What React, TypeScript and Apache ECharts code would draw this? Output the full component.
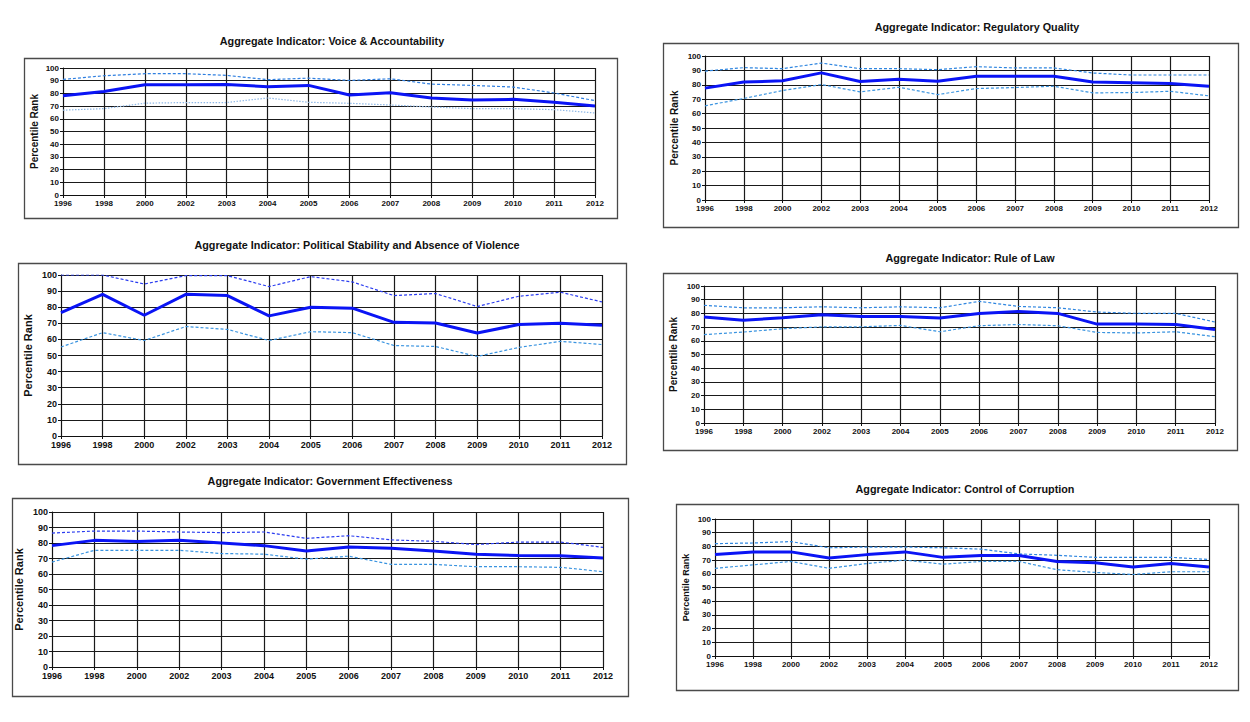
import React, { useEffect, useRef } from "react";
import * as echarts from "echarts";

const years = ["1996", "1998", "2000", "2002", "2003", "2004", "2005", "2006", "2007", "2008", "2009", "2010", "2011", "2012"];
const yTicks = [0, 100, 10]; // min, max, interval

const voiceRank = [78.2, 81.5, 86.8, 86.8, 87, 85.3, 86.3, 78.7, 80.5, 76.3, 74.8, 75.3, 73, 70];
const voiceUpper = [91, 93.9, 95.5, 95.5, 94.2, 90.8, 92, 90.2, 91.5, 87.3, 86.3, 85, 80.3, 74.3];
const voiceLower = [66.8, 68, 72.3, 72.8, 72.8, 76.4, 73, 72.2, 70.9, 69.3, 68, 68, 67.2, 64.6];

const regRank = [77.7, 81.9, 82.8, 88.3, 82.3, 83.9, 82.5, 86, 86, 86, 81.9, 81.4, 80.9, 79];
const regUpper = [89.5, 91.9, 91.2, 95.1, 91.2, 91.2, 90.5, 92.6, 91.7, 91.7, 88.2, 86.8, 86.8, 86.8];
const regLower = [65.4, 70.5, 76, 80.2, 75.1, 78.3, 73.2, 77.4, 78.1, 79, 74.4, 74.6, 75.5, 72.3];

const polRank = [76.7, 88, 75, 88, 87.2, 74.6, 80, 79.4, 70.6, 70.2, 64, 69.2, 70, 68.8];
const polUpper = [100, 100, 94.4, 99.6, 99.6, 92.8, 99, 95.7, 87.2, 88.5, 80.4, 86.8, 89.3, 83.3];
const polLower = [55.3, 64.2, 59.3, 68, 66.2, 59.3, 64.8, 64.2, 56.2, 55.6, 49.4, 55, 58.8, 56.8];

const lawRank = [77.3, 75, 76.9, 79, 77.8, 77.8, 76.6, 80, 81.4, 80, 72.2, 72.2, 71.9, 68.3];
const lawUpper = [85.9, 84.1, 84.1, 84.8, 84.1, 84.8, 84.1, 88.8, 85.1, 84.1, 81, 80, 80, 73.7];
const lawLower = [64.5, 66.4, 68.8, 70.2, 70.2, 71.2, 66.6, 71, 71.9, 71, 66.1, 65.7, 66.6, 63];

const govRank = [78.3, 81.7, 80.9, 81.7, 80, 78.3, 74.9, 77.4, 76.6, 74.9, 72.8, 71.9, 71.7, 70.4];
const govUpper = [86.4, 87.7, 87.7, 87.1, 86.7, 87.1, 83, 84.7, 82, 81.1, 79, 80.6, 80.6, 77.2];
const govLower = [67.7, 75.3, 75.3, 75.3, 73.2, 72.8, 69.6, 71.5, 66.2, 66.2, 64.7, 64.7, 64.3, 61.5];

const corRank = [74, 76, 76, 71.5, 74, 76, 72, 73.3, 73.3, 69, 68, 65, 67.5, 65];
const corUpper = [82, 82.5, 83.5, 79, 79.5, 79.5, 79, 78, 74.5, 73.5, 72, 72, 72, 70.5];
const corLower = [64, 66.5, 69, 64, 67.5, 70, 67, 69, 69, 63, 61, 59.5, 61.5, 61.5];

const FONT = "Liberation Sans, Arial, sans-serif";

const panels = [
  {
    title: "Aggregate Indicator: Voice & Accountability",
    rank: voiceRank, upper: voiceUpper, lower: voiceLower,
    grid: { left: 63, top: 68, width: 532, height: 127 },
    box: [24, 58, 593, 160], tx: 332, ty: 41,
    fs: 8, nfs: 10, gap: 24, upC: "#2f7fe0", loC: "#8fb8e6", loDash: [1.5, 1.5],
  },
  {
    title: "Aggregate Indicator: Regulatory Quality",
    rank: regRank, upper: regUpper, lower: regLower,
    grid: { left: 705, top: 56, width: 504, height: 144 },
    box: [663, 43, 575, 184], tx: 977, ty: 27,
    fs: 8, nfs: 10, gap: 26, upC: "#2f86e0", loC: "#3a94e0", loDash: [3, 2],
  },
  {
    title: "Aggregate Indicator: Political Stability and Absence of Violence",
    rank: polRank, upper: polUpper, lower: polLower,
    grid: { left: 61, top: 275, width: 541, height: 161 },
    box: [18, 263, 608, 201], tx: 357, ty: 245,
    fs: 9, nfs: 11, gap: 28, upC: "#2a3cf0", loC: "#3a94e0", loDash: [3, 2],
  },
  {
    title: "Aggregate Indicator: Rule of Law",
    rank: lawRank, upper: lawUpper, lower: lawLower,
    grid: { left: 704, top: 286, width: 511, height: 137 },
    box: [663, 273, 574, 177], tx: 970, ty: 258,
    fs: 8, nfs: 10, gap: 26, upC: "#2f86e0", loC: "#3a94e0", loDash: [3, 2],
  },
  {
    title: "Aggregate Indicator: Government Effectiveness",
    rank: govRank, upper: govUpper, lower: govLower,
    grid: { left: 52, top: 512, width: 551, height: 155 },
    box: [12, 498, 616, 198], tx: 330, ty: 481,
    fs: 9, nfs: 11, gap: 28, upC: "#2a3cf0", loC: "#3a94e0", loDash: [3, 2],
  },
  {
    title: "Aggregate Indicator: Control of Corruption",
    rank: corRank, upper: corUpper, lower: corLower,
    grid: { left: 715, top: 519, width: 494, height: 137 },
    box: [676, 504, 562, 186], tx: 965, ty: 489,
    fs: 8, nfs: 9, gap: 25, upC: "#2f86e0", loC: "#3a94e0", loDash: [3, 2],
  },
];

export default function App() {
  const ref = useRef<HTMLDivElement>(null);
  useEffect(() => {
    if (!ref.current) return;
    const chart = echarts.init(ref.current, null, { renderer: "svg" });
    const grids: any[] = [];
    const xAxes: any[] = [];
    const yAxes: any[] = [];
    const series: any[] = [];
    const graphics: any[] = [];
    panels.forEach((p, i) => {
      grids.push({ ...p.grid, containLabel: false });
      xAxes.push({
        type: "category",
        gridIndex: i,
        data: years,
        boundaryGap: false,
        axisLine: { lineStyle: { color: "#111", width: 1 } },
        axisTick: { show: true, length: 3, interval: 0, lineStyle: { color: "#111" } },
        axisLabel: { interval: 0, fontFamily: FONT, fontWeight: "bold", fontSize: p.fs, color: "#111", margin: 4 },
        splitLine: { show: true, interval: 0, lineStyle: { color: "#1a1a1a", width: 1.2 } },
      });
      yAxes.push({
        type: "value",
        gridIndex: i,
        min: yTicks[0],
        max: yTicks[1],
        interval: yTicks[2],
        name: "Percentile Rank",
        nameLocation: "middle",
        nameRotate: 90,
        nameGap: p.gap,
        nameTextStyle: { fontFamily: FONT, fontWeight: "bold", fontSize: p.nfs, color: "#111" },
        axisLine: { show: true, lineStyle: { color: "#111", width: 1 } },
        axisTick: { show: true, length: 3, lineStyle: { color: "#111" } },
        axisLabel: { fontFamily: FONT, fontWeight: "bold", fontSize: p.fs, color: "#111", margin: 4 },
        splitLine: { show: true, lineStyle: { color: "#1a1a1a", width: 1.2 } },
      });
      series.push({
        type: "line", xAxisIndex: i, yAxisIndex: i, data: p.lower, symbol: "none", z: 3,
        lineStyle: { color: p.loC, width: 1.2, type: p.loDash },
      });
      series.push({
        type: "line", xAxisIndex: i, yAxisIndex: i, data: p.upper, symbol: "none", z: 3,
        lineStyle: { color: p.upC, width: 1.2, type: [3, 2] },
      });
      series.push({
        type: "line", xAxisIndex: i, yAxisIndex: i, data: p.rank, symbol: "none", z: 4,
        lineStyle: { color: "#0a14f5", width: 3 },
      });
      graphics.push({
        type: "rect",
        shape: { x: p.box[0] + 0.5, y: p.box[1] + 0.5, width: p.box[2], height: p.box[3] },
        style: { fill: "none", stroke: "#4a4a4a", lineWidth: 1.3 },
        silent: true,
      });
      graphics.push({
        type: "text",
        x: p.tx,
        y: p.ty,
        style: {
          text: p.title,
          fill: "#111",
          font: "bold 10.8px " + FONT,
          textAlign: "center",
          textVerticalAlign: "middle",
        },
        silent: true,
      });
    });
    chart.setOption({
      animation: false,
      backgroundColor: "#ffffff",
      grid: grids,
      xAxis: xAxes,
      yAxis: yAxes,
      series,
      graphic: graphics,
    });
    return () => chart.dispose();
  }, []);
  return (
    <div
      ref={ref}
      style={{ position: "fixed", left: 0, top: 0, width: 1250, height: 722, background: "#fff" }}
    />
  );
}
